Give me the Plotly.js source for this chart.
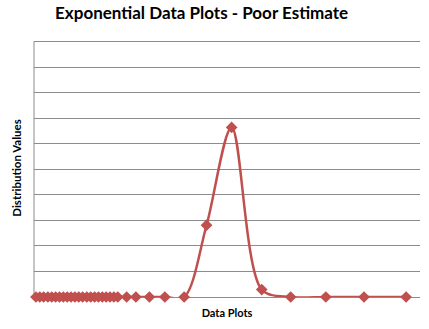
<!DOCTYPE html>
<html>
<head>
<meta charset="utf-8">
<script src="https://cdn.plot.ly/plotly-3.0.1.min.js"></script>
<style>html,body{margin:0;padding:0;background:#fff;}#chart{width:429px;height:329px;}</style>
</head>
<body>
<div id="chart"></div>
<script>
const chartTitle = "Exponential Data Plots - Poor Estimate";
const xTitle = "Data Plots";
const yTitle = "Distribution Values";
const dataX = [0.5, 1.5, 2.5, 3.6, 4.6, 5.6, 6.6, 7.6, 8.6, 9.6, 10.6, 11.6, 12.6, 13.7, 14.7, 15.7, 16.7, 17.7, 18.7, 19.7, 20.7, 21.7,
               24.0, 26.4, 29.9, 33.9, 38.9, 44.7, 51.2, 59.0, 66.5, 75.6, 85.5, 96.4];
const dataY = [0, 0, 0, 0, 0, 0, 0, 0, 0, 0, 0, 0, 0, 0, 0, 0, 0, 0, 0, 0, 0, 0,
               0, 0, 0, 0, 0, 2.81, 6.64, 0.29, 0, 0, 0, 0];

const red = "#C0504D";
const grid = "#8C8C8C";

Plotly.newPlot("chart", [{
  x: dataX, y: dataY, type: "scatter", mode: "lines+markers",
  line: {color: red, width: 2.5, shape: "spline", smoothing: 0.9},
  marker: {symbol: "diamond", size: 9, color: red},
  cliponaxis: false, hoverinfo: "none"
}], {
  width: 429, height: 329,
  margin: {l: 34, r: 9, t: 39, b: 32},
  paper_bgcolor: "#fff", plot_bgcolor: "#fff",
  showlegend: false,
  font: {family: "Lato, 'Open Sans', sans-serif", color: "#000"},
  title: {text: "<b>" + chartTitle + "</b>", font: {size: 17, family: "Lato, sans-serif", color: "#000"},
          x: 0.47, xanchor: "center", y: 0.96, yanchor: "middle"},
  xaxis: {range: [0, 100], showgrid: false, zeroline: false, showline: false,
          showticklabels: false, ticks: "", fixedrange: true,
          title: {text: "<b>" + xTitle + "</b>", font: {size: 11}, standoff: 12}},
  yaxis: {range: [0, 10.1], dtick: 1, showgrid: true, gridcolor: grid, gridwidth: 1,
          zeroline: true, zerolinecolor: grid, zerolinewidth: 1,
          showline: false, fixedrange: true,
          showticklabels: false, ticks: "",
          title: {text: "<b>" + yTitle + "</b>", font: {size: 11.5}, standoff: 8}},
  shapes: [{type: "line", xref: "paper", yref: "y", x0: 0, x1: 0, y0: 0, y1: 10,
            line: {color: grid, width: 1}, layer: "below"}]
}, {displayModeBar: false, staticPlot: true});
</script>
</body>
</html>
